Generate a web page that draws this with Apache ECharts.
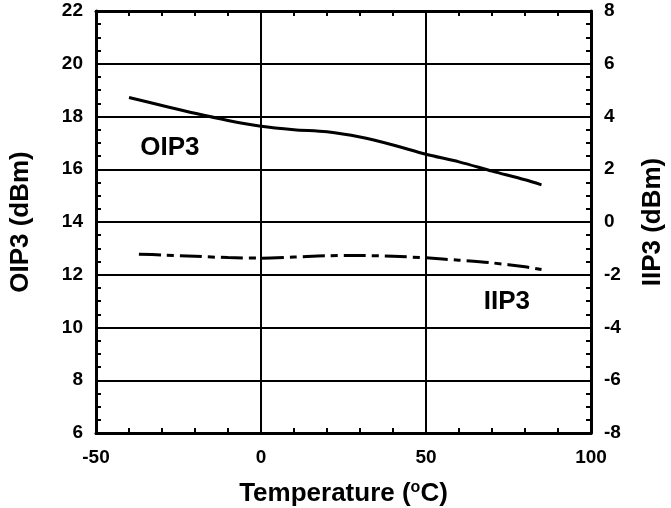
<!DOCTYPE html>
<html><head><meta charset="utf-8">
<script src="https://cdn.jsdelivr.net/npm/echarts@6/dist/echarts.min.js"></script>
<style>html,body{margin:0;padding:0;background:#fff}#c{width:671px;height:508px}</style>
</head><body><div id="c"></div>
<script>
const temps = [-40, -30, -20, -10, 0, 10, 20, 30, 40, 50, 60, 70, 80, 85];
const oip3 = [18.72, 18.42, 18.12, 17.85, 17.63, 17.5, 17.42, 17.22, 16.92, 16.57, 16.28, 15.93, 15.6, 15.41];
const iip3Temps = [-37, -30, -20, -10, 0, 10, 20, 30, 40, 50, 60, 70, 80, 85];
const iip3 = [-1.22, -1.25, -1.3, -1.35, -1.37, -1.33, -1.28, -1.27, -1.3, -1.36, -1.45, -1.55, -1.7, -1.8];
const xTicks = [-50, 0, 50, 100];
const leftTicks = [6, 8, 10, 12, 14, 16, 18, 20, 22];
const rightTicks = [-8, -6, -4, -2, 0, 2, 4, 6, 8];
const oipLabel = {x: -27.6, y: 16.8, text: 'OIP3'};
const iipLabel = {x: 74.5, y: -3.04, text: 'IIP3'};

const FONT = 'Liberation Sans, Arial, sans-serif';
const chart = echarts.init(document.getElementById('c'));
const lbl = {fontFamily: FONT, fontWeight: 'bold', fontSize: 19, color: '#000'};
const tick = {show: true, inside: true, length: 6, lineStyle: {color: '#000', width: 2}};
function minor(n){ return {show: true, splitNumber: n, length: 5, lineStyle: {color: '#000', width: 2}}; }
const axisLine = {show: true, onZero: false, lineStyle: {color: '#000', width: 3}};
const titleStyle = {fontFamily: FONT, fontWeight: 'bold', fontSize: 26, color: '#000'};
chart.setOption({
  animation: false,
  backgroundColor: '#fff',
  grid: {left: 96, right: 80, top: 11, bottom: 75, show: false, containLabel: false, outerBoundsMode: 'none'},
  xAxis: [{
    type: 'value', min: -50, max: 100, interval: 50, position: 'bottom',
    axisLine: axisLine, axisTick: tick, minorTick: minor(5),
    splitLine: {show: true, lineStyle: {color: '#000', width: 2}},
    axisLabel: Object.assign({margin: 15, formatter: v => xTicks.includes(v) ? String(v) : ''}, lbl),
    name: '{a|Temperature (}{s|o}{a|C)}', nameLocation: 'middle', nameGap: 47,
    nameTextStyle: {rich: {
      a: titleStyle,
      s: {fontFamily: FONT, fontWeight: 'bold', fontSize: 16, color: '#000', verticalAlign: 'top', padding: [0, 0, 12, 0]}
    }}
  }, {
    type: 'value', min: -50, max: 100, interval: 50, position: 'top',
    axisLine: axisLine, axisTick: tick, minorTick: minor(5),
    splitLine: {show: false}, axisLabel: {show: false}
  }],
  yAxis: [{
    type: 'value', min: 6, max: 22, interval: 2, position: 'left',
    axisLine: axisLine, axisTick: tick, minorTick: minor(4),
    splitLine: {show: true, lineStyle: {color: '#000', width: 2}},
    axisLabel: Object.assign({margin: 13, formatter: v => leftTicks.includes(v) ? String(v) : ''}, lbl),
    name: 'OIP3 (dBm)', nameLocation: 'middle', nameGap: 62,
    nameTextStyle: titleStyle
  }, {
    type: 'value', min: -8, max: 8, interval: 2, position: 'right',
    axisLine: axisLine, axisTick: tick, minorTick: minor(4),
    splitLine: {show: false},
    axisLabel: Object.assign({margin: 13, formatter: v => rightTicks.includes(v) ? String(v) : ''}, lbl),
    name: 'IIP3 (dBm)', nameLocation: 'middle', nameGap: 49, nameRotate: 90,
    nameTextStyle: titleStyle
  }],
  series: [{
    type: 'line', xAxisIndex: 0, yAxisIndex: 0, showSymbol: false, smooth: 0.3,
    data: temps.map((t, i) => [t, oip3[i]]),
    lineStyle: {color: '#000', width: 3},
    markPoint: {symbol: 'circle', symbolSize: 0, silent: true,
      label: Object.assign({show: true, position: 'inside', formatter: oipLabel.text}, titleStyle),
      data: [{coord: [oipLabel.x, oipLabel.y]}]}
  }, {
    type: 'line', xAxisIndex: 0, yAxisIndex: 1, showSymbol: false, smooth: 0.3,
    data: iip3Temps.map((t, i) => [t, iip3[i]]),
    lineStyle: {color: '#000', width: 3, type: [22, 6, 7, 6]},
    markPoint: {symbol: 'circle', symbolSize: 0, silent: true,
      label: Object.assign({show: true, position: 'inside', formatter: iipLabel.text}, titleStyle),
      data: [{coord: [iipLabel.x, iipLabel.y]}]}
  }]
});
</script></body></html>
